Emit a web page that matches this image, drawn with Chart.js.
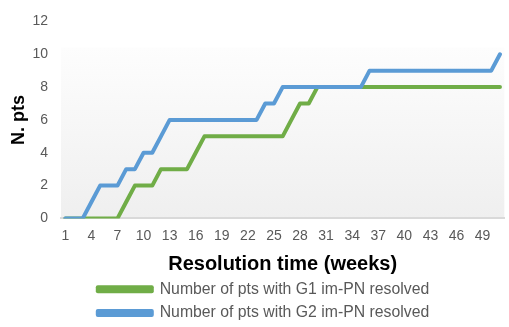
<!DOCTYPE html>
<html>
<head>
<meta charset="utf-8">
<script src="https://cdn.jsdelivr.net/npm/chart.js@4.4.1/dist/chart.umd.min.js"></script>
<style>
    body { margin: 0; background: #fff; }
    .wrap { width: 509px; height: 327px; }
</style>
</head>
<body>
<div class="wrap"><canvas id="weeks"></canvas></div>
<script>
// weeks 1..51
var weeks = [];
for (var w = 1; w <= 51; w++) weeks.push(w);

// number of pts resolved per week
var g1_resolved = [0,0,0,0,0,0,0,1,2,2, 2,3,3,3,3,4,5,5,5,5, 5,5,5,5,5,5,6,7,7,8, 8,8,8,8,8,8,8,8,8,8, 8,8,8,8,8,8,8,8,8,8, 8];
var g2_resolved = [0,0,0,1,2,2,2,3,3,4, 4,5,6,6,6,6,6,6,6,6, 6,6,6,7,7,8,8,8,8,8, 8,8,8,8,8,9,9,9,9,9, 9,9,9,9,9,9,9,9,9,9, 10];

var y_ticks = [0, 2, 4, 6, 8, 10, 12];

var greyText = '#595959';
var fontFam = 'Liberation Sans, Arial, sans-serif';

// gradient behind the plot, like the excel plot area
var plotBg = {
    id: 'plotBg',
    beforeDraw: function(chart) {
        var a = chart.chartArea, ctx = chart.ctx;
        var top = a.top + 26;
        var g = ctx.createLinearGradient(0, top, 0, a.bottom);
        g.addColorStop(0, '#fdfdfd');
        g.addColorStop(1, '#efefef');
        ctx.save();
        ctx.fillStyle = g;
        ctx.fillRect(a.left, top, a.right - a.left, a.bottom - top);
        ctx.restore();
    }
};

var ctx = document.getElementById('weeks').getContext('2d');
var myChart = new Chart(ctx, {
    type: 'line',
    data: {
        labels: weeks,
        datasets: [{
            label: 'Number of pts with G2 im-PN resolved',
            data: g2_resolved,
            borderColor: '#5B9BD5',
            backgroundColor: '#5B9BD5',
            borderWidth: 4,
            pointRadius: 0,
            tension: 0,
            borderCapStyle: 'round',
            borderJoinStyle: 'round'
        }, {
            label: 'Number of pts with G1 im-PN resolved',
            data: g1_resolved,
            borderColor: '#70AD47',
            backgroundColor: '#70AD47',
            borderWidth: 4,
            pointRadius: 0,
            tension: 0,
            borderCapStyle: 'round',
            borderJoinStyle: 'round'
        }]
    },
    options: {
        responsive: true,
        maintainAspectRatio: false,
        animation: false,
        // extra left padding pushes the legend right like in the original
        layout: { padding: { top: 9, right: 4, left: 22, bottom: -4 } },
        plugins: {
            tooltip: { enabled: false },
            legend: {
                position: 'bottom',
                reverse: true,
                labels: {
                    boxWidth: 54,
                    boxHeight: 4,
                    padding: 8,
                    color: greyText,
                    font: { family: fontFam, size: 15.8 }
                }
            }
        },
        scales: {
            x: {
                offset: true,
                grid: { display: false, drawTicks: false },
                border: { color: '#d9d9d9', width: 2 },
                afterFit: function(scale) { scale.height = 55; },
                ticks: {
                    autoSkip: false,
                    maxRotation: 0,
                    padding: 9,
                    color: greyText,
                    font: { family: fontFam, size: 14 },
                    callback: function(v, i) { return i % 3 === 0 ? weeks[i] : ''; }
                },
                title: {
                    display: true,
                    text: 'Resolution time (weeks)',
                    color: '#000',
                    padding: { top: 0, bottom: -3 },
                    font: { family: fontFam, size: 20, weight: 'bold' }
                }
            },
            y: {
                min: 0,
                max: 12,
                grid: { display: false, drawTicks: false },
                border: { display: false },
                afterBuildTicks: function(scale) {
                    scale.ticks = y_ticks.map(function(v) { return { value: v }; });
                },
                afterFit: function(scale) { scale.width = 39; },
                ticks: {
                    padding: 13,
                    color: greyText,
                    font: { family: fontFam, size: 14 }
                },
                title: {
                    display: true,
                    text: 'N. pts',
                    color: '#000',
                    padding: { top: -14, bottom: 0 },
                    font: { family: fontFam, size: 18, weight: 'bold' }
                }
            }
        }
    },
    plugins: [plotBg]
});
</script>
</body>
</html>
